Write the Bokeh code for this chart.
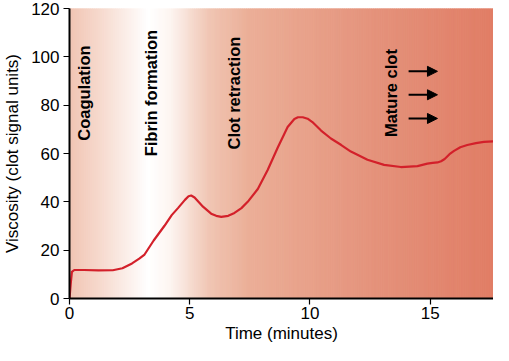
from bokeh.plotting import figure
from bokeh.models import Range1d, FixedTicker, Arrow, NormalHead, ColumnDataSource
from bokeh.core.properties import value
from bokeh.embed import file_html
from bokeh.resources import INLINE

# ---- data ----
time_min = [0, 0.05, 0.1, 0.2, 0.6, 1.2, 1.8, 2.2, 2.6, 2.9, 3.12, 3.5, 3.95, 4.25,
            4.51, 4.8, 4.95, 5.06, 5.2, 5.4, 5.55, 5.89, 6.1, 6.31, 6.6, 6.86, 7.15,
            7.41, 7.83, 8.24, 8.66, 9.07, 9.35, 9.5, 9.7, 9.9, 10.1, 10.46, 10.87,
            11.3, 11.7, 12.39, 13.08, 13.78, 14.47, 14.88, 15.1, 15.3, 15.45, 15.6,
            15.8, 15.99, 16.25, 16.54, 16.9, 17.23, 17.7, 18.2]
viscosity = [0, 6, 11, 11.8, 11.8, 11.6, 11.7, 12.5, 14.5, 16.5, 18.2, 24, 30.1, 34.5,
             37.4, 40.8, 42.3, 42.6, 41.8, 39.6, 38, 35.1, 34.2, 33.8, 34.2, 35.4, 37.4,
             40, 45.3, 53.2, 62.5, 71, 74.3, 75, 75, 74.4, 73, 69.5, 66.2,
             63.5, 60.8, 57.4, 55.3, 54.4, 54.8, 55.8, 56.1, 56.3, 56.8, 57.7,
             59.7, 61.1, 62.6, 63.5, 64.3, 64.8, 65.1, 65.3]

x_ticks = [0, 5, 10, 15]
y_ticks = [0, 20, 40, 60, 80, 100, 120]

phase_labels = ["Coagulation", "Fibrin formation", "Clot retraction", "Mature clot"]
phase_x = [0.62, 3.4, 6.85, 13.36]
phase_y = [85, 85, 85, 85]

arrow_x_start = [14.1, 14.1, 14.1]
arrow_x_end = [15.3, 15.3, 15.3]
arrow_y = [94, 84.3, 74.5]

# background gradient stops (minutes, rgb)
grad_pos = [0.0, 1.5, 3.3, 4.2, 5.8, 7.5, 13.0, 18.4]
grad_rgb = [(241, 196, 178), (247, 221, 210), (255, 255, 255), (253, 245, 241),
            (240, 198, 180), (235, 174, 151), (228, 145, 122), (224, 122, 98)]

X_END = 17.63
FONT = "Liberation Sans"

p = figure(width=493, height=345, output_backend="svg", toolbar_location=None,
           x_range=Range1d(0, X_END), y_range=Range1d(0, 120),
           min_border_left=68, min_border_right=0, min_border_top=8, min_border_bottom=0)
p.outline_line_color = None
p.grid.visible = False
p.background_fill_color = "white"
p.border_fill_color = "white"


def interp_color(x):
    for i in range(len(grad_pos) - 1):
        if grad_pos[i] <= x <= grad_pos[i + 1]:
            t = (x - grad_pos[i]) / (grad_pos[i + 1] - grad_pos[i])
            a, b = grad_rgb[i], grad_rgb[i + 1]
            c = tuple(int(round(a[k] + (b[k] - a[k]) * t)) for k in range(3))
            return "#%02x%02x%02x" % c
    return "#%02x%02x%02x" % grad_rgb[-1]


step = 0.08
lefts, rights, cols = [], [], []
x = 0.0
while x < X_END:
    lefts.append(x)
    rights.append(min(x + step, X_END))
    cols.append(interp_color(x + step / 2))
    x += step
p.quad(left=lefts, right=rights, bottom=0, top=120, fill_color=cols, line_color=cols,
       line_width=1)

# curve
p.line(time_min, viscosity, line_color="#d3202a", line_width=2.2, line_join="round")

# phase labels
src = ColumnDataSource(dict(x=phase_x, y=phase_y, t=phase_labels))
p.text(x="x", y="y", text="t", source=src, angle=1.5708, text_align="center",
       text_baseline="middle", text_font=value(FONT), text_font_style="bold",
       text_font_size="16.5px", text_color="black")

# arrows
for xs, xe, ya in zip(arrow_x_start, arrow_x_end, arrow_y):
    p.add_layout(Arrow(end=NormalHead(size=10, fill_color="black", line_color="black"),
                       x_start=xs, y_start=ya, x_end=xe, y_end=ya,
                       line_width=2, line_color="black"))

# axes
for ax in (p.xaxis[0], p.yaxis[0]):
    ax.axis_line_width = 2
    ax.axis_line_color = "black"
    ax.major_tick_in = 0
    ax.major_tick_out = 6
    ax.major_tick_line_width = 1.2
    ax.minor_tick_line_color = None
    ax.major_label_text_font = FONT
    ax.major_label_text_font_size = "17px"
    ax.major_label_text_color = "black"
    ax.axis_label_text_font = FONT
    ax.axis_label_text_font_size = "17px"
    ax.axis_label_text_font_style = "normal"
    ax.axis_label_text_color = "black"

p.xaxis.major_label_standoff = 2
p.xaxis.axis_label_standoff = 2
p.yaxis.major_label_standoff = 4
p.yaxis.axis_label_standoff = 6

p.xaxis.ticker = FixedTicker(ticks=x_ticks)
p.yaxis.ticker = FixedTicker(ticks=y_ticks)
p.xaxis.axis_label = "Time (minutes)"
p.yaxis.axis_label = "Viscosity (clot signal units)"

open("out.html", "w").write(file_html(p, INLINE))
